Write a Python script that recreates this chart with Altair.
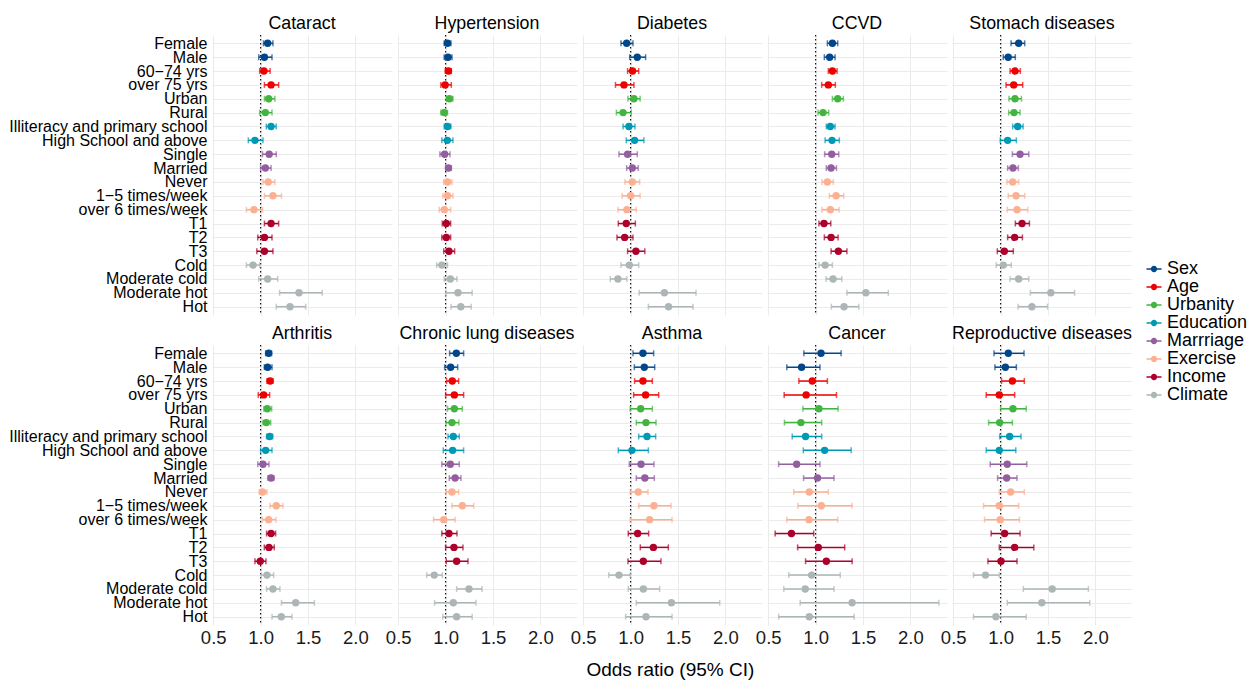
import altair as alt
import pandas as pd

FONT = "Liberation Sans"

labels = ["Female", "Male", "60\u221274 yrs", "over 75 yrs", "Urban", "Rural",
          "Illiteracy and primary school", "High School and above", "Single", "Married",
          "Never", "1\u22125 times/week", "over 6 times/week", "T1", "T2", "T3",
          "Cold", "Moderate cold", "Moderate hot", "Hot"]
groups = ["Sex", "Sex", "Age", "Age", "Urbanity", "Urbanity", "Education", "Education",
          "Marrriage", "Marrriage", "Exercise", "Exercise", "Exercise", "Income", "Income",
          "Income", "Climate", "Climate", "Climate", "Climate"]
group_order = ["Sex", "Age", "Urbanity", "Education", "Marrriage", "Exercise", "Income", "Climate"]
group_colors = ["#00468B", "#ED0000", "#42B540", "#0099B4", "#925E9F", "#FDAF91", "#AD002A", "#ADB6B6"]
diseases = ["Cataract", "Hypertension", "Diabetes", "CCVD", "Stomach diseases",
            "Arthritis", "Chronic lung diseases", "Asthma", "Cancer", "Reproductive diseases"]
x_ticks = [0.5, 0.75, 1.0, 1.25, 1.5, 1.75, 2.0, 2.25]

# (odds ratio, lower 95% CI, upper 95% CI) in the order of `labels`
cataract = [(1.074, 1.03, 1.13), (1.04, 0.98, 1.12), (1.035, 0.99, 1.10), (1.11, 1.04, 1.19),
            (1.085, 1.04, 1.15), (1.05, 0.99, 1.12), (1.11, 1.06, 1.165), (0.94, 0.87, 1.025),
            (1.09, 1.02, 1.165), (1.05, 1.0, 1.11), (1.08, 1.025, 1.15), (1.13, 1.04, 1.22),
            (0.93, 0.85, 1.02), (1.11, 1.04, 1.19), (1.04, 0.97, 1.12), (1.04, 0.96, 1.13),
            (0.92, 0.85, 0.99), (1.074, 0.98, 1.18), (1.405, 1.20, 1.65), (1.31, 1.165, 1.475)]
hypertension = [(1.02, 0.985, 1.056), (1.025, 0.985, 1.067), (1.03, 0.996, 1.06), (0.995, 0.95, 1.06),
                (1.04, 1.007, 1.077), (0.985, 0.95, 1.02), (1.02, 0.985, 1.056), (1.018, 0.96, 1.077),
                (0.99, 0.94, 1.046), (1.03, 1.0, 1.06), (1.02, 0.98, 1.067), (1.02, 0.97, 1.077),
                (0.986, 0.933, 1.053), (1.007, 0.965, 1.053), (1.007, 0.96, 1.053), (1.035, 0.98, 1.095),
                (0.96, 0.905, 1.02), (1.05, 0.985, 1.12), (1.13, 1.0, 1.28), (1.16, 1.057, 1.27)]
diabetes = [(0.958, 0.898, 1.025), (1.07, 0.99, 1.158), (1.02, 0.968, 1.085), (0.93, 0.84, 1.035),
            (1.035, 0.972, 1.10), (0.92, 0.85, 1.007), (0.982, 0.92, 1.046), (1.042, 0.954, 1.14),
            (0.968, 0.877, 1.07), (1.018, 0.958, 1.08), (1.018, 0.94, 1.095), (1.0, 0.91, 1.10),
            (0.96, 0.866, 1.06), (0.954, 0.87, 1.05), (0.937, 0.856, 1.025), (1.056, 0.968, 1.15),
            (0.986, 0.898, 1.085), (0.866, 0.785, 0.96), (1.356, 1.09, 1.69), (1.40, 1.187, 1.658)]
ccvd = [(1.177, 1.124, 1.233), (1.148, 1.092, 1.205), (1.177, 1.134, 1.226), (1.134, 1.064, 1.208),
        (1.233, 1.177, 1.293), (1.078, 1.025, 1.138), (1.155, 1.113, 1.205), (1.173, 1.10, 1.25),
        (1.17, 1.095, 1.244), (1.163, 1.113, 1.22), (1.124, 1.067, 1.187), (1.216, 1.145, 1.297),
        (1.155, 1.067, 1.247), (1.088, 1.035, 1.16), (1.163, 1.092, 1.237), (1.24, 1.163, 1.33),
        (1.10, 1.035, 1.177), (1.184, 1.11, 1.276), (1.53, 1.33, 1.767), (1.30, 1.166, 1.456)]
stomach = [(1.19, 1.11, 1.254), (1.08, 1.028, 1.155), (1.152, 1.10, 1.208), (1.138, 1.057, 1.233),
           (1.152, 1.088, 1.22), (1.141, 1.085, 1.205), (1.18, 1.127, 1.237), (1.074, 0.996, 1.166),
           (1.205, 1.124, 1.297), (1.13, 1.074, 1.187), (1.127, 1.067, 1.19), (1.163, 1.08, 1.254),
           (1.173, 1.07, 1.286), (1.226, 1.155, 1.304), (1.148, 1.074, 1.23), (1.039, 0.965, 1.134),
           (1.028, 0.954, 1.113), (1.19, 1.10, 1.297), (1.53, 1.314, 1.78), (1.33, 1.184, 1.495)]
arthritis = [(1.085, 1.053, 1.116), (1.074, 1.039, 1.12), (1.10, 1.067, 1.13), (1.032, 0.975, 1.095),
             (1.07, 1.035, 1.116), (1.06, 1.025, 1.106), (1.095, 1.063, 1.127), (1.053, 1.0, 1.12),
             (1.025, 0.97, 1.088), (1.11, 1.077, 1.14), (1.02, 0.986, 1.067), (1.165, 1.10, 1.236),
             (1.085, 1.018, 1.162), (1.11, 1.063, 1.158), (1.088, 1.039, 1.144), (0.996, 0.94, 1.056),
             (1.067, 1.007, 1.137), (1.13, 1.063, 1.204), (1.37, 1.22, 1.567), (1.218, 1.12, 1.33)]
lung = [(1.113, 1.042, 1.19), (1.053, 0.99, 1.127), (1.07, 1.01, 1.137), (1.092, 1.0, 1.19),
        (1.092, 1.02, 1.176), (1.067, 1.004, 1.14), (1.081, 1.025, 1.144), (1.074, 0.975, 1.19),
        (1.05, 0.96, 1.144), (1.10, 1.039, 1.162), (1.067, 1.004, 1.137), (1.176, 1.067, 1.296),
        (0.98, 0.873, 1.10), (1.035, 0.96, 1.12), (1.088, 1.0, 1.183), (1.116, 1.007, 1.236),
        (0.88, 0.80, 0.965), (1.246, 1.116, 1.384), (1.081, 0.884, 1.32), (1.116, 0.97, 1.28)]
asthma = [(1.13, 1.025, 1.243), (1.144, 1.039, 1.254), (1.13, 1.042, 1.229), (1.158, 1.032, 1.296),
          (1.106, 0.996, 1.229), (1.162, 1.06, 1.268), (1.173, 1.085, 1.264), (1.014, 0.87, 1.187),
          (1.11, 0.986, 1.246), (1.15, 1.06, 1.25), (1.08, 0.996, 1.183), (1.246, 1.085, 1.426),
          (1.20, 0.996, 1.437), (1.074, 0.975, 1.19), (1.24, 1.102, 1.398), (1.134, 0.972, 1.32),
          (0.877, 0.77, 0.996), (1.134, 0.975, 1.306), (1.43, 1.06, 1.94), (1.162, 0.947, 1.437)]
cancer = [(1.057, 0.876, 1.269), (0.852, 0.696, 1.046), (0.965, 0.823, 1.124), (0.90, 0.668, 1.22),
          (1.035, 0.866, 1.237), (0.845, 0.671, 1.064), (0.894, 0.753, 1.064), (1.095, 0.87, 1.375),
          (0.80, 0.61, 1.046), (1.02, 0.873, 1.194), (0.933, 0.77, 1.134), (1.06, 0.813, 1.385),
          (0.93, 0.696, 1.233), (0.745, 0.573, 0.98), (1.028, 0.81, 1.307), (1.113, 0.894, 1.385),
          (0.958, 0.717, 1.26), (0.89, 0.664, 1.194), (1.385, 0.837, 2.30), (0.933, 0.61, 1.406)]
reproductive = [(1.081, 0.93, 1.247), (1.05, 0.94, 1.166), (1.124, 1.01, 1.25), (0.986, 0.848, 1.148),
                (1.13, 1.0, 1.27), (0.99, 0.873, 1.124), (1.095, 0.99, 1.215), (0.986, 0.848, 1.16),
                (1.07, 0.89, 1.276), (1.064, 0.968, 1.173), (1.106, 0.986, 1.25), (0.986, 0.82, 1.19),
                (0.996, 0.83, 1.198), (1.042, 0.90, 1.205), (1.148, 0.986, 1.35), (1.004, 0.866, 1.173),
                (0.84, 0.714, 0.986), (1.544, 1.24, 1.926), (1.435, 1.07, 1.94), (0.95, 0.714, 1.27)]

series = [cataract, hypertension, diabetes, ccvd, stomach,
          arthritis, lung, asthma, cancer, reproductive]

rows = []
for d, vals in zip(diseases, series):
    for lab, grp, (o, lo, hi) in zip(labels, groups, vals):
        rows.append({"disease": d, "label": lab, "group": grp, "or": o, "lo": lo, "hi": hi})
df = pd.DataFrame(rows)

KEY_PATH = ("M-1,-0.1 L1,-0.1 L1,0.1 L-1,0.1 Z "
            "M-0.42,0 A0.42,0.42 0 1,1 0.42,0 A0.42,0.42 0 1,1 -0.42,0 Z")

legend = alt.Legend(title=None, orient="none", legendX=933, legendY=225,
                    symbolType=KEY_PATH, symbolSize=225, symbolStrokeWidth=0,
                    symbolOpacity=1,
                    labelFontSize=18, labelFont=FONT, labelColor="black",
                    rowPadding=0, labelOffset=4)
color = alt.Color("group:N", sort=group_order,
                  scale=alt.Scale(domain=group_order, range=group_colors), legend=legend)

xscale = alt.Scale(domain=[0.487, 2.386], nice=False, zero=False)
xaxis = alt.Axis(title=None, values=x_ticks, grid=True, ticks=False, domain=False,
                 labelExpr="datum.value % 0.5 == 0 ? format(datum.value, '.1f') : ''",
                 labelFontSize=18.5, labelFont=FONT, labelColor="#1a1a1a", labelPadding=2,
                 gridColor="#EBEBEB", gridWidth=1)
yenc = alt.Y("label:N", sort=labels, scale=alt.Scale(type="point", padding=0.6),
             axis=alt.Axis(title=None, ticks=False, domain=False, grid=True,
                           gridColor="#EBEBEB", gridWidth=1, labelFontSize=16,
                           labelFont=FONT, labelColor="black", labelPadding=5,
                           labelLimit=400))

base = alt.Chart()

vline = base.transform_filter(alt.datum.label == "Female").mark_rule(
    color="black", strokeDash=[1.5, 2.5], strokeWidth=1.1
).encode(x=alt.datum(1.0, scale=xscale))

bars = base.mark_rule(strokeWidth=1.5).encode(
    x=alt.X("lo:Q", scale=xscale, axis=xaxis), x2="hi:Q", y=yenc, color=color)
cap_lo = base.mark_tick(thickness=1.5, size=6).encode(
    x=alt.X("lo:Q", scale=xscale, axis=xaxis), y=yenc, color=color)
cap_hi = base.mark_tick(thickness=1.5, size=6).encode(
    x=alt.X("hi:Q", scale=xscale, axis=xaxis), y=yenc, color=color)
pts = base.mark_circle(size=55, opacity=1).encode(
    x=alt.X("or:Q", scale=xscale, axis=xaxis), y=yenc, color=color)

layer = alt.layer(vline, bars, cap_lo, cap_hi, pts).properties(width=180, height=280)

chart = layer.facet(
    data=df,
    facet=alt.Facet("disease:N", sort=diseases,
                    header=alt.Header(title=None, labelFontSize=17.8, labelFont=FONT,
                                      labelColor="black", labelPadding=2)),
    columns=5,
    spacing={"row": 8, "column": 5},
).properties(
    title=alt.TitleParams("Odds ratio (95% CI)", orient="bottom", anchor="middle",
                          fontSize=19, fontWeight="normal", font=FONT, color="black",
                          offset=14, dx=42),
    padding={"left": 0, "top": 6, "right": 0, "bottom": 0},
).configure_view(stroke=None)

chart.save("out.html", embed_options={"renderer": "svg", "actions": False})
